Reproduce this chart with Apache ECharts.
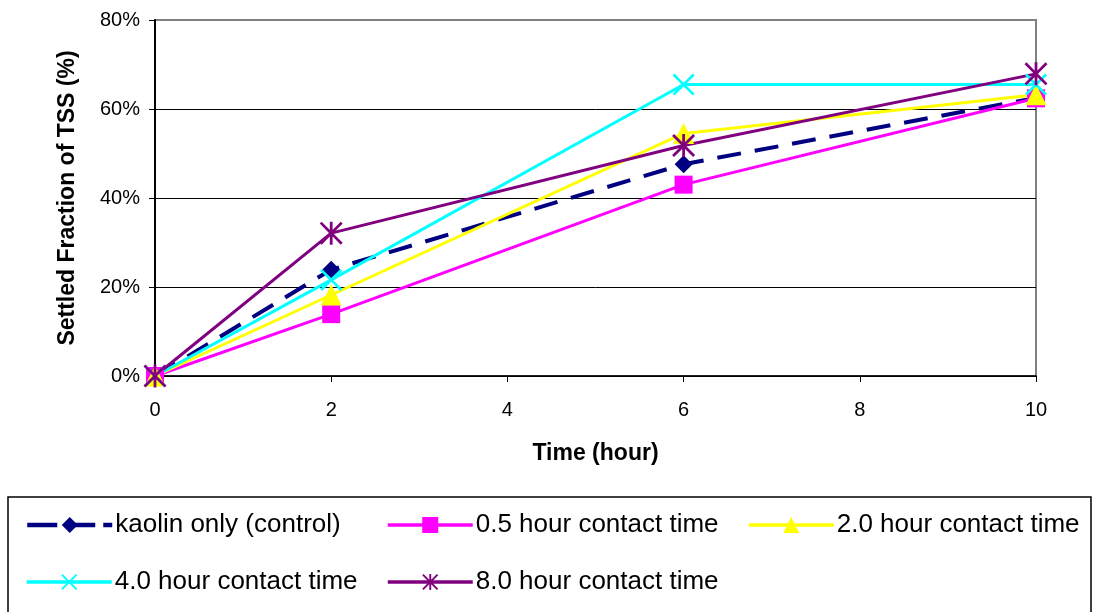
<!DOCTYPE html>
<html>
<head>
<meta charset="utf-8">
<script src="https://cdn.jsdelivr.net/npm/echarts@6/dist/echarts.min.js"></script>
<style>
  html, body { margin: 0; padding: 0; background: #fff; }
  #chart { width: 1093px; height: 612px; }
</style>
</head>
<body>
<div id="chart"></div>
<script>
// Settling time (hours)
var hours = [0, 2, 6, 10];

// Settled fraction of TSS (%) for each pre-contact time
var kaolinOnly = [0, 23.9, 47.6, 62.5];
var contact05 = [0, 13.9, 43.0, 62.4];
var contact20 = [0, 18.2, 54.5, 63.2];
var contact40 = [0, 21.6, 65.5, 65.5];
var contact80 = [0, 32.1, 51.8, 67.9];

var seriesNames = [
  'kaolin only (control)',
  '0.5 hour contact time',
  '2.0 hour contact time',
  '4.0 hour contact time',
  '8.0 hour contact time'
];

var yTicks = [0, 20, 40, 60, 80];

var FONT = "'Liberation Sans', Arial, sans-serif";

// Marker shapes drawn as filled outlines
var xMark = 'path://M0,1.7L1.7,0L10,8.3L18.3,0L20,1.7L11.7,10L20,18.3L18.3,20L10,11.7L1.7,20L0,18.3L8.3,10Z';
var starMark = 'path://M0,1.7L1.7,0L10,8.3L18.3,0L20,1.7L11.7,10L20,18.3L18.3,20L10,11.7L1.7,20L0,18.3L8.3,10Z' +
               'M8.8,0L11.2,0L11.2,20L8.8,20Z';

function pairs(vals) {
  return hours.map(function (h, i) { return [h, vals[i]]; });
}

var styles = [
  { color: '#000080', symbol: 'diamond', size: 18, width: 4, dash: [24, 14] },
  { color: '#FF00FF', symbol: 'rect', size: 18, width: 3, dash: 'solid' },
  { color: '#FFFF00', symbol: 'triangle', size: 21, width: 3, dash: 'solid' },
  { color: '#00FFFF', symbol: xMark, size: 22, width: 3, dash: 'solid' },
  { color: '#800080', symbol: starMark, size: 23, width: 3, dash: 'solid' }
];

var seriesValues = [kaolinOnly, contact05, contact20, contact40, contact80];

var series = seriesNames.map(function (name, i) {
  var s = styles[i];
  return {
    name: name,
    type: 'line',
    data: pairs(seriesValues[i]),
    symbol: s.symbol,
    symbolSize: s.size,
    showSymbol: true,
    clip: false,
    lineStyle: { color: s.color, width: s.width, type: s.dash },
    itemStyle: { color: s.color },
    emphasis: { disabled: true }
  };
});

// One legend block per entry so the entries sit in fixed columns
var legendSlots = [
  { left: 25, top: 512 },
  { left: 386, top: 512 },
  { left: 747, top: 512 },
  { left: 25, top: 569 },
  { left: 386, top: 569 }
];
var legends = seriesNames.map(function (n, i) {
  var s = styles[i];
  return {
    data: [n],
    left: legendSlots[i].left,
    top: legendSlots[i].top,
    orient: 'horizontal',
    padding: 0,
    itemGap: 0,
    itemWidth: 85,
    itemHeight: 20,
    selectedMode: false,
    lineStyle: { width: s.width + 0.5, type: i === 0 ? [30, 8] : 'solid' },
    textStyle: { fontSize: 26, color: '#000', fontFamily: FONT, padding: [0, 0, 0, -2] }
  };
});

var chart = echarts.init(document.getElementById('chart'), null, { renderer: 'canvas' });
chart.setOption({
  animation: false,
  backgroundColor: '#ffffff',
  grid: {
    left: 155, right: 57, top: 20, bottom: 236,
    show: true, borderColor: '#808080', borderWidth: 2, backgroundColor: 'transparent'
  },
  xAxis: {
    type: 'value',
    min: 0, max: 10, interval: 2,
    name: 'Time (hour)',
    nameLocation: 'middle',
    nameGap: 66,
    nameTextStyle: { fontSize: 23, fontWeight: 'bold', color: '#000', fontFamily: FONT },
    axisLine: { show: true, lineStyle: { color: '#000', width: 1.5 } },
    axisTick: { show: true, inside: false, length: 6, lineStyle: { color: '#000', width: 1 } },
    axisLabel: { fontSize: 20, color: '#000', fontFamily: FONT, margin: 24 },
    splitLine: { show: false }
  },
  yAxis: {
    type: 'value',
    min: 0, max: 80, interval: 20,
    name: 'Settled Fraction of TSS (%)',
    nameLocation: 'middle',
    nameGap: 76,
    nameRotate: 90,
    nameTextStyle: { fontSize: 23, fontWeight: 'bold', color: '#000', fontFamily: FONT },
    axisLine: { show: true, lineStyle: { color: '#000', width: 2 } },
    axisTick: { show: true, inside: false, length: 6, lineStyle: { color: '#000', width: 1 } },
    axisLabel: {
      fontSize: 20, color: '#000', fontFamily: FONT, margin: 15,
      formatter: function (v) { return yTicks.indexOf(v) >= 0 ? v + '%' : ''; }
    },
    splitLine: { show: true, lineStyle: { color: ['#000', '#000', '#000', '#000', '#808080'], width: 1 } }
  },
  legend: legends,
  graphic: [{
    type: 'rect',
    shape: { x: 8, y: 497, width: 1083, height: 140 },
    style: { fill: 'none', stroke: '#000', lineWidth: 1.5 },
    silent: true,
    z: 0
  }],
  series: series
});
</script>
</body>
</html>
